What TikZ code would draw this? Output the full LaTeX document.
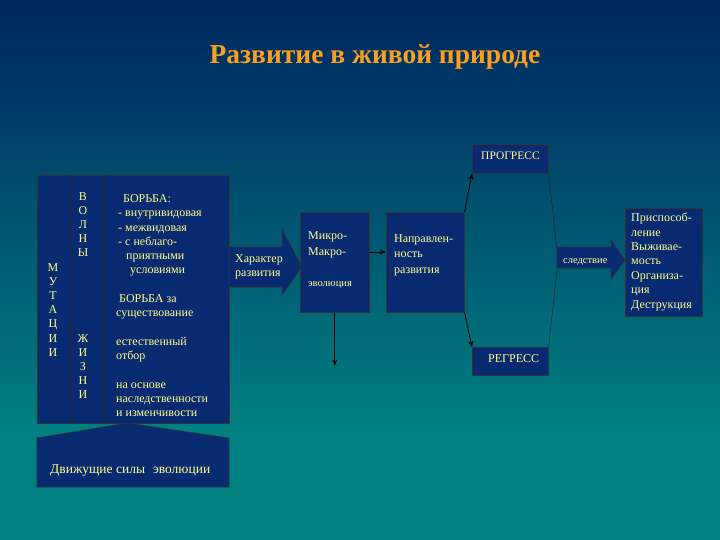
\documentclass[tikz,border=0pt]{standalone}
\usepackage{fontspec}
\setmainfont{Liberation Serif}
\usetikzlibrary{arrows.meta}
\definecolor{bgtop}{RGB}{0,38,95}
\definecolor{bgbot}{RGB}{0,128,128}
\definecolor{boxfill}{RGB}{8,42,112}
\definecolor{txt}{RGB}{255,255,140}
\definecolor{ttl}{RGB}{250,160,30}
\begin{document}
\begin{tikzpicture}[x=1pt,y=-1pt,
  box/.style={draw=black!80, line width=0.6pt, fill=boxfill, inner sep=0pt, anchor=north west},
  blk/.style={draw=black!80, line width=0.6pt, fill=boxfill},
  lbl/.style={text=txt, font=\fontsize{12}{14}\selectfont, inner sep=0pt, anchor=base west, align=left},
  small/.style={text=txt, font=\fontsize{10.5}{12}\selectfont, inner sep=0pt, anchor=base west},
  conn/.style={-{Stealth[length=6pt,width=5pt]}, black, line width=0.8pt},
  thin/.style={black!85, line width=0.5pt}]
\useasboundingbox (0,0) rectangle (720,540);
\fill[bgbot] (0,0) rectangle (720,540);
\shade[top color=bgtop, bottom color=bgbot] (0,0) rectangle (720,430);

% title
\node[text=ttl, font=\fontsize{27.5}{30}\selectfont\bfseries, anchor=base, inner sep=0pt] (title) at (375,64) {Развитие в живой природе};

% left big box
\node[box, minimum width=192pt, minimum height=248pt] (left) at (37,175) {};
\draw[thin] (70,175) -- (70,423);
\draw[thin] (104,175) -- (104,423);
\node[lbl, anchor=north, align=center, font=\fontsize{12}{14.2}\selectfont] (mut) at (53,263) {М\\У\\Т\\А\\Ц\\И\\И};
\node[lbl, anchor=north, align=center, font=\fontsize{12}{14}\selectfont] (voln) at (83,192) {В\\О\\Л\\Н\\Ы};
\node[lbl, anchor=north, align=center, font=\fontsize{12}{14.2}\selectfont] (zhizn) at (83,334) {Ж\\И\\З\\Н\\И};
\node[lbl] (t1) at (123,203) {БОРЬБА:};
\node[lbl] (t2) at (118,217) {- внутривидовая};
\node[lbl] (t3) at (118,231) {- межвидовая};
\node[lbl] (t4) at (118,245) {- с неблаго-};
\node[lbl] (t5) at (126,259) {приятными};
\node[lbl] (t6) at (130,273) {условиями};
\node[lbl] (t7) at (119,302) {БОРЬБА за};
\node[lbl] (t8) at (116,316) {существование};
\node[lbl] (t9) at (116,345) {естественный};
\node[lbl] (t10) at (116,359) {отбор};
\node[lbl] (t11) at (116,388) {на основе};
\node[lbl] (t12) at (116,402) {наследственности};
\node[lbl] (t13) at (116,416) {и изменчивости};

% bottom pentagon
\filldraw[blk] (37,438) -- (127,423) -- (229,438) -- (229,487) -- (37,487) -- cycle;
\node[lbl, font=\fontsize{13.5}{15}\selectfont] (dv) at (50,473) {Движущие силы\hspace{8pt}эволюции};

% block arrow Характер развития
\filldraw[blk] (229,247) -- (282,247) -- (282,229) -- (302,267) -- (282,295) -- (282,287) -- (229,287) -- cycle;
\node[lbl] (char1) at (235,262) {Характер};
\node[lbl] (char2) at (235,276) {развития};

% Микро-Макро box
\node[box, minimum width=69pt, minimum height=100pt] (micro) at (300,212) {};
\node[lbl] (m1) at (308,240) {Микро-};
\node[lbl] (m2) at (308,255) {Макро-};
\node[small] (m3) at (308,286) {эволюция};

% Направленность box
\node[box, minimum width=78pt, minimum height=100pt] (napr) at (386,212) {};
\node[lbl] (n1) at (394,243) {Направлен-};
\node[lbl] (n2) at (394,258) {ность};
\node[lbl] (n3) at (394,273) {развития};

% progress / regress
\node[box, minimum width=76pt, minimum height=29pt] (prog) at (472,144) {};
\node[small, font=\fontsize{11.5}{13}\selectfont] (progt) at (481,160) {ПРОГРЕСС};
\node[box, minimum width=76pt, minimum height=28pt] (regr) at (472,347) {};
\node[small, font=\fontsize{12}{13}\selectfont] (regrt) at (488,362) {РЕГРЕСС};

% bracket
\draw[thin] (prog.south east) -- (557,250) -- (557,270) -- (regr.north east);

% следствие arrow
\filldraw[blk] (557,247) -- (611,247) -- (611,240) -- (625,260) -- (611,279) -- (611,268) -- (557,268) -- cycle;
\node[small] (sl) at (563,263) {следствие};

% right box
\node[box, minimum width=77pt, minimum height=108pt] (res) at (625,208) {};
\node[lbl, font=\fontsize{12}{14.4}\selectfont, anchor=north west] (rest) at (631,213) {Приспособ-\\ление\\Выживае-\\мость\\Организа-\\ция\\Деструкция};

% connectors
\draw[conn] (micro.east |- 0,252) -- (napr.west |- 0,252);
\draw[conn] (micro.south) -- ++(0,53) coordinate (mdown);
\draw[conn] (napr.north east) -- (prog.south west);
\draw[conn] (napr.south east) -- (regr.north west);
\end{tikzpicture}
\end{document}
